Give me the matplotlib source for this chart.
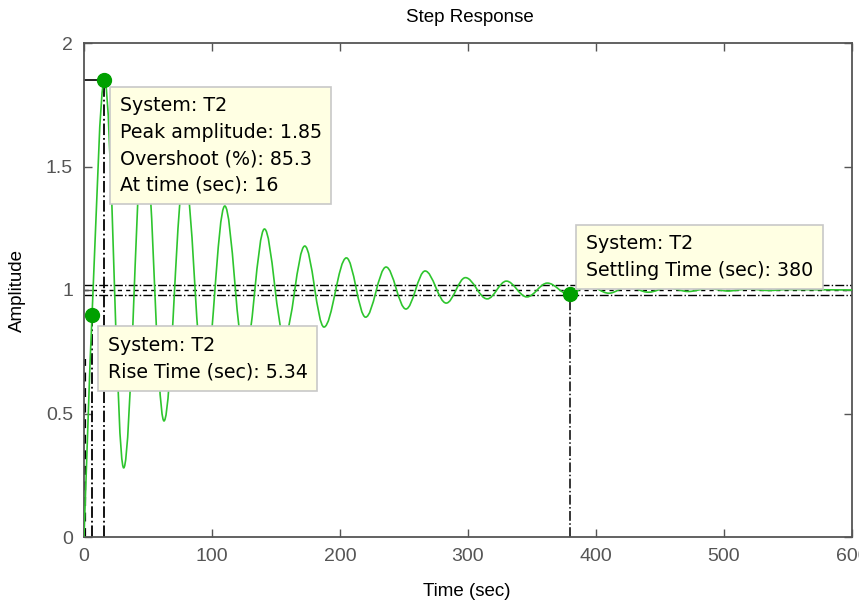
import numpy as np
import matplotlib
matplotlib.use('Agg')
import matplotlib.pyplot as plt
from matplotlib.path import Path
from matplotlib.patches import PathPatch

# step response of T2 (peaks, troughs and the 90% rise point)
knot_t = [0, 6.3, 16, 31, 47, 62.5, 78.5, 94, 110, 125.5, 141, 156.5, 172.5, 187.5,
          205, 220, 236, 251.5, 266.5, 283, 298, 315, 330, 346, 362, 379, 394, 410,
          425, 441, 456, 472, 488, 503, 519, 535, 550, 600]
knot_y = [0, 0.9, 1.85, 0.28, 1.66, 0.47, 1.48, 0.62, 1.34, 0.73, 1.247, 0.81, 1.178, 0.85,
          1.13, 0.89, 1.093, 0.923, 1.077, 0.947, 1.05, 0.964, 1.036, 0.972, 1.028, 0.982,
          1.018, 0.987, 1.013, 0.991, 1.009, 0.994, 1.006, 0.996, 1.004, 0.998, 1.002, 1.0]

peak_time = 16
peak_amp = 1.85
overshoot = 85.3
rise_start = 1.0
rise_time = 5.34
rise_amp = 0.9
settle_time = 380
settle_amp = 0.982
final_value = 1.0
band = 0.02

xticks = [0, 100, 200, 300, 400, 500, 600]
yticks = [0, 0.5, 1, 1.5, 2]

CURVE = '#2ec52e'
MARK = '#00a000'


def slopes(t, y):
	m = []
	for i in range(len(t)):
		if i == 0:
			m.append((y[1] - y[0]) / (t[1] - t[0]))
		elif i == len(t) - 1:
			m.append(0.0)
		elif (y[i] - y[i-1]) * (y[i+1] - y[i]) <= 0:
			m.append(0.0)  # extremum
		else:
			m.append((y[i+1] - y[i-1]) / (t[i+1] - t[i-1]))
	return m


def response_path(t, y, h=0.36):
	m = slopes(t, y)
	verts = [(t[0], y[0])]
	codes = [Path.MOVETO]
	for i in range(len(t) - 1):
		dt = t[i+1] - t[i]
		verts.append((t[i] + h*dt, y[i] + m[i]*h*dt))
		verts.append((t[i+1] - h*dt, y[i+1] - m[i+1]*h*dt))
		verts.append((t[i+1], y[i+1]))
		codes += [Path.CURVE4] * 3
	return Path(verts, codes)


plt.rcParams['font.family'] = 'Liberation Sans'

fig = plt.figure(figsize=(8.59, 6.07), dpi=100)
ax = fig.add_axes([84/859, 1 - 537/607, 768/859, 494/607])

# settling band and steady state
ax.axhline(final_value + band, color='k', lw=1, ls='-.', zorder=1)
ax.axhline(final_value - band, color='k', lw=1, ls='-.', zorder=1)
ax.axhline(final_value, color='k', lw=1, ls=(0, (3, 3)), zorder=1)

# characteristic lines
rise_end = rise_start + rise_time
ax.plot([rise_end, rise_end], [0, rise_amp], color='k', lw=1.3, ls='-.')
ax.plot([rise_start, rise_start], [0, rise_amp*0.8], color='k', lw=1.6, ls=(0, (4, 3)))
ax.plot([0, peak_time], [peak_amp, peak_amp], color='k', lw=1.2)
ax.plot([peak_time, peak_time], [0, peak_amp], color='k', lw=1.3, ls='-.')
ax.plot([settle_time, settle_time], [0, settle_amp], color='k', lw=1.1, ls='-.')

ax.add_patch(PathPatch(response_path(knot_t, knot_y), fill=False, ec=CURVE, lw=1.2, zorder=3))

ax.plot([peak_time, rise_end, settle_time], [peak_amp, rise_amp, settle_amp], 'o',
		color=MARK, ms=10, zorder=5)

box = dict(boxstyle='square,pad=0.5', fc='#ffffe3', ec='#c8c8c8', lw=1.2)
tip = dict(fontsize=13.7, family='DejaVu Sans', va='top', ha='left', linespacing=1.5,
		   bbox=box, zorder=6)
ax.text(28, 1.785, 'System: T2\nPeak amplitude: %.2f\nOvershoot (%%): %.1f\nAt time (sec): %d'
		% (peak_amp, overshoot, peak_time), **tip)
ax.text(18.5, 0.815, 'System: T2\nRise Time (sec): %.2f' % rise_time, **tip)
ax.text(392, 1.225, 'System: T2\nSettling Time (sec): %d' % settle_time, **tip)

ax.set_xlim(0, 600)
ax.set_ylim(0, 2)
ax.set_xticks(xticks)
ax.set_yticks(yticks)
ax.set_yticklabels(['0', '0.5', '1', '1.5', '2'])
ax.tick_params(direction='in', top=True, right=True, length=6, width=1,
			   labelsize=14, labelcolor='#555555', color='#555555', pad=8)
for s in ax.spines.values():
	s.set_color('#555555')
	s.set_linewidth(1.3)

fig.text(470/859, 1 - 17/607, 'Step Response', ha='center', va='center', fontsize=13.5)
fig.text(467/859, 1 - 592/607, 'Time (sec)', ha='center', va='center', fontsize=13.5)
fig.text(17/859, 1 - 290/607, 'Amplitude', ha='center', va='center', rotation=90, fontsize=13.5)

fig.savefig('out.png', dpi=100)
